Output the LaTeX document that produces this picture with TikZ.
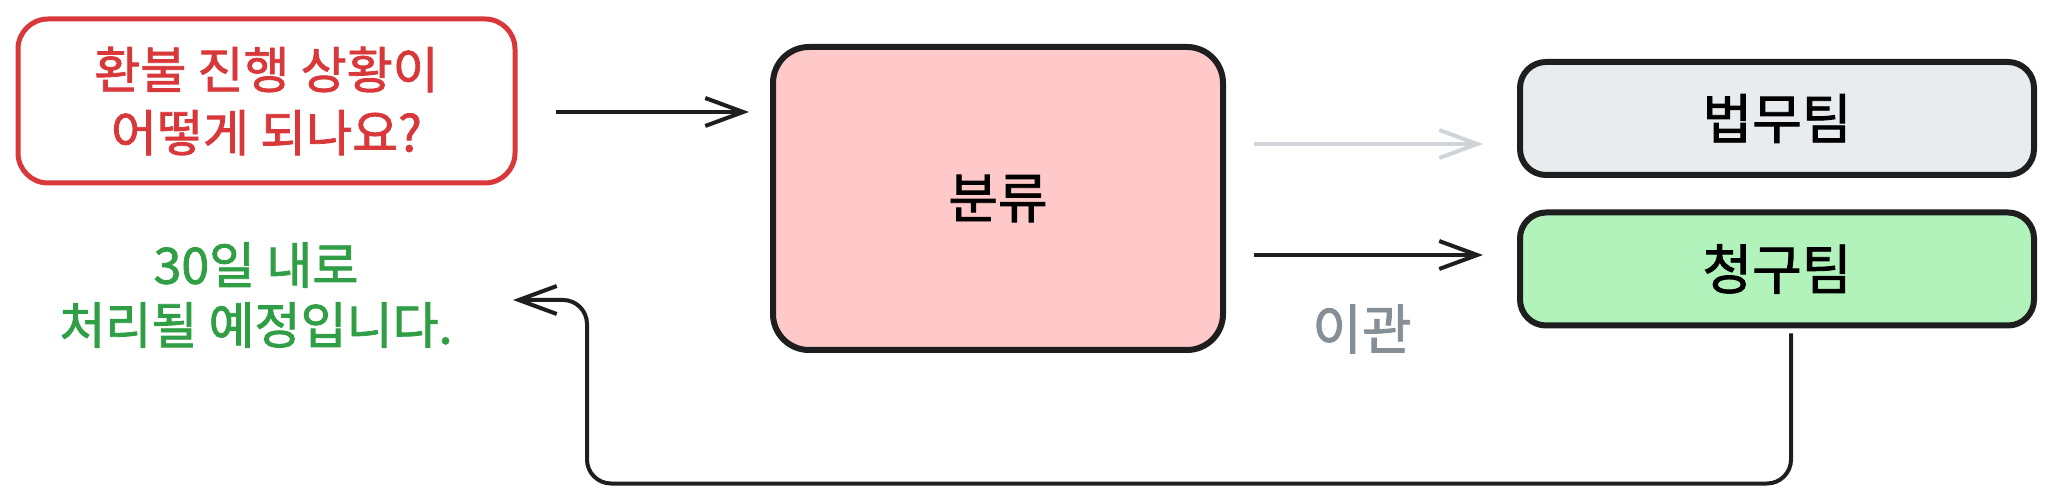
\documentclass[tikz,border=0pt]{standalone}
\usepackage{fontspec}
\setmainfont{Noto Sans CJK KR}
\newfontfamily\sketchfont[FakeBold=1.6]{Noto Sans CJK KR}
\usetikzlibrary{arrows.meta}
\definecolor{ink}{HTML}{1E1E1E}
\definecolor{askred}{HTML}{D9383A}
\definecolor{replygreen}{HTML}{2F9E44}
\definecolor{pinkfill}{HTML}{FFC9C9}
\definecolor{grayfill}{HTML}{E9ECEF}
\definecolor{greenfill}{HTML}{B2F2BB}
\definecolor{arrowgray}{HTML}{CED4DA}
\definecolor{notegray}{HTML}{868E96}
\begin{document}
\begin{tikzpicture}[
		x=0.5pt,
		y=-0.5pt,
		box/.style={draw=ink,line width=3pt,rounded corners=13pt,inner sep=0pt},
		arr/.style={-{Straight Barb[length=19pt,width=14pt]},line width=2pt,draw=ink},
		big/.style={font=\sketchfont\fontsize{27}{32}\selectfont},
	]
		\useasboundingbox (0,0) rectangle (2050,496);
		
		\node[box,draw=askred,line width=2.5pt,rounded corners=15pt,minimum width=248.5pt,minimum height=82pt,text=askred,align=center,font=\sketchfont\fontsize{25}{31.5}\selectfont] (q) at (266.5,101) {환불 진행 상황이\\어떻게 되나요?};
		\node[box,fill=pinkfill,rounded corners=18pt,minimum width=225pt,minimum height=151.5pt,big] (cls) at (998,198.5) {분류};
		\node[box,fill=grayfill,minimum width=257pt,minimum height=56.5pt,big] (legal) at (1777,118.5) {법무팀};
		\node[box,fill=greenfill,minimum width=257pt,minimum height=56.5pt,big] (billing) at (1777,269) {청구팀};
		\node[text=replygreen,align=center,font=\sketchfont\fontsize{25}{30}\selectfont] (ans) at (256,295) {30일 내로\\처리될 예정입니다.};
		\node[text=notegray,big] (moved) at (1362,329) {이관};
		\coordinate (ret) at (513,300);
		
		\draw[arr,shorten <=19pt,shorten >=10.5pt] ([yshift=-5.5pt]q.east) -- ([yshift=43.25pt]cls.west);
		\draw[arr,draw=arrowgray,shorten <=14pt,shorten >=17pt] ([yshift=27.25pt]cls.east) -- ([yshift=-12.75pt]legal.west);
		\draw[arr,shorten <=14pt,shorten >=17pt] ([yshift=-28.25pt]cls.east) -- ([yshift=7pt]billing.west);
		\draw[arr,rounded corners=12pt] ([xshift=7pt,yshift=-2.5pt]billing.south) -- ++(0,150) -| ([xshift=37pt]ret) -- (ret);
	\end{tikzpicture}
\end{document}
